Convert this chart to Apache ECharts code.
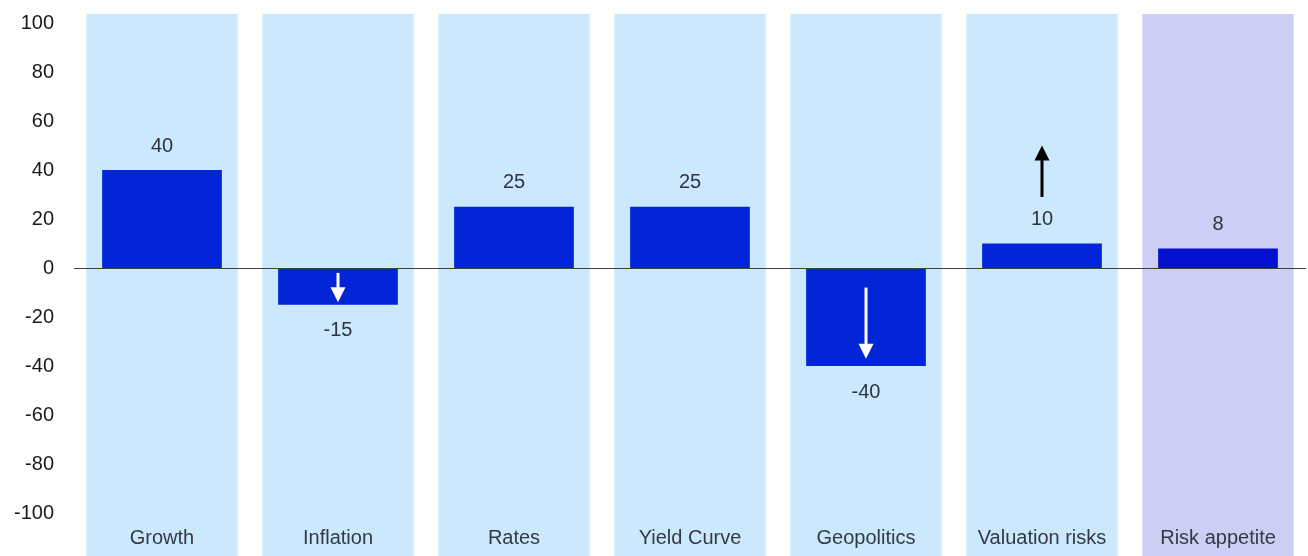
<!DOCTYPE html>
<html>
<head>
<meta charset="utf-8">
<script src="https://cdn.jsdelivr.net/npm/echarts@6/dist/echarts.min.js"></script>
<style>
  html, body { margin: 0; padding: 0; background: #ffffff; }
  #chart { width: 1308px; height: 556px; }
</style>
</head>
<body>
<div id="chart"></div>
<script>
// Factor scores, -100 .. 100
const categories = ['Growth', 'Inflation', 'Rates', 'Yield Curve', 'Geopolitics', 'Valuation risks', 'Risk appetite'];
const scores = [40, -15, 25, 25, -40, 10, 8];
// Direction-of-change arrows per factor (start and end value; null = no arrow)
const arrowFrom = [null, -2, null, null, -8, 29, null];
const arrowTo = [null, -14, null, null, -37, 50, null];
const yTicks = [-100, -80, -60, -40, -20, 0, 20, 40, 60, 80, 100];

// The aggregate column gets its own tint
const summaryCategory = 'Risk appetite';

const FONT = '"Liberation Sans", Arial, sans-serif';
const PANEL_TOP = 103.7;
const PANEL_BOTTOM = -120;

const chart = echarts.init(document.getElementById('chart'), null, { renderer: 'canvas' });

const barData = scores.map((v, i) => ({
  value: v,
  itemStyle: { color: categories[i] === summaryCategory ? '#0410cf' : '#0325d8' },
  label: { position: v < 0 ? 'bottom' : 'top', distance: v < 0 ? 16 : 14 }
}));

const option = {
  animation: false,
  backgroundColor: '#ffffff',
  grid: { left: 74, right: 2, top: 10.75, bottom: 6.25, containLabel: false },
  xAxis: {
    type: 'category',
    data: categories,
    axisLine: { show: false },
    axisTick: { show: false },
    axisLabel: {
      inside: true,
      margin: 1,
      fontFamily: FONT,
      fontSize: 20,
      color: '#333a45'
    },
    z: 10
  },
  yAxis: {
    type: 'value',
    min: -115,
    max: 105,
    interval: 5,
    splitLine: { show: false },
    axisLine: { show: false },
    axisTick: { show: false },
    axisLabel: {
      margin: 20,
      fontFamily: FONT,
      fontSize: 20,
      color: '#1a1a1a',
      formatter: (v) => (yTicks.indexOf(v) >= 0 ? String(v) : '')
    }
  },
  series: [
    {
      // Background column behind each factor
      type: 'custom',
      z: 0,
      silent: true,
      clip: false,
      data: categories.map((c, i) => [i]),
      renderItem: (params, api) => {
        const idx = api.value(0);
        const w = api.size([1, 0])[0] * 0.86;
        const x = api.coord([idx, 0])[0];
        const yTop = api.coord([idx, PANEL_TOP])[1];
        const yBot = api.coord([idx, PANEL_BOTTOM])[1];
        return {
          type: 'rect',
          shape: { x: x - w / 2, y: yTop, width: w, height: yBot - yTop },
          style: { fill: categories[idx] === summaryCategory ? '#cccff3' : '#cce8fc' }
        };
      }
    },
    {
      type: 'bar',
      z: 2,
      barWidth: '68%',
      data: barData,
      label: {
        show: true,
        fontFamily: FONT,
        fontSize: 20,
        color: '#2e3440',
        formatter: '{c}'
      },
      markLine: {
        silent: true,
        symbol: 'none',
        label: { show: false },
        lineStyle: { color: '#404040', width: 1, type: 'solid' },
        data: [{ yAxis: 0 }]
      }
    },
    {
      // Arrows showing the direction of change
      type: 'custom',
      z: 5,
      silent: true,
      data: categories.map((c, i) => [i, arrowFrom[i], arrowTo[i]]).filter(d => d[1] !== null),
      renderItem: (params, api) => {
        const idx = api.value(0);
        const p0 = api.coord([idx, api.value(1)]);
        const p1 = api.coord([idx, api.value(2)]);
        const down = p1[1] > p0[1];
        const dir = down ? 1 : -1;
        const color = down ? '#ffffff' : '#000000';
        const headLen = 15;
        const headHalf = 7.5;
        const shaftEnd = p1[1] - dir * (headLen - 2);
        return {
          type: 'group',
          children: [
            {
              type: 'line',
              shape: { x1: p0[0], y1: p0[1], x2: p0[0], y2: shaftEnd },
              style: { stroke: color, lineWidth: 3 }
            },
            {
              type: 'polygon',
              shape: {
                points: [
                  [p1[0], p1[1]],
                  [p1[0] - headHalf, p1[1] - dir * headLen],
                  [p1[0] + headHalf, p1[1] - dir * headLen]
                ]
              },
              style: { fill: color }
            }
          ]
        };
      }
    }
  ]
};

chart.setOption(option);
</script>
</body>
</html>
